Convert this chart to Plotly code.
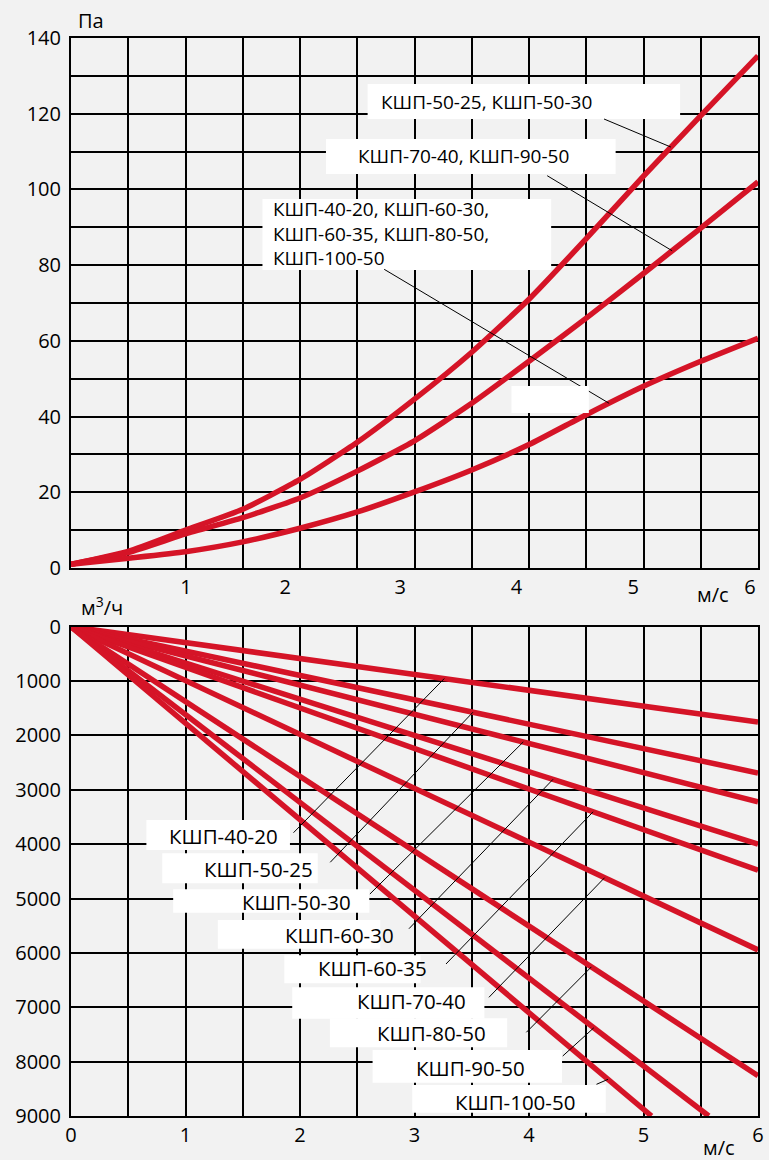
import numpy as np
import plotly.graph_objects as go

# ---------------- data ----------------
# Upper chart: pressure loss (Pa) vs air velocity (m/s)
velocity_top = [0.0, 0.5, 1.0, 1.5, 2.0, 2.5, 3.0, 3.5, 4.0, 4.5, 5.0, 5.5, 6.0]
pressure_50 = [1.0, 4.4, 10.0, 15.5, 23.4, 33.2, 44.6, 57.0, 71.0, 87.0, 103.5, 119.5, 135.3]
pressure_70 = [1.0, 4.1, 9.0, 13.3, 18.5, 25.6, 33.6, 43.5, 54.6, 66.0, 77.8, 89.8, 102.0]
pressure_40 = [1.0, 2.6, 4.3, 6.9, 10.5, 14.8, 20.1, 25.9, 32.6, 40.5, 48.0, 54.6, 60.7]
top_series = [pressure_50, pressure_70, pressure_40]
top_names = ["КШП-50-25, КШП-50-30",
             "КШП-70-40, КШП-90-50",
             "КШП-40-20, КШП-60-30,<br>КШП-60-35, КШП-80-50,<br>КШП-100-50"]

# Lower chart: air flow (m³/h) vs velocity (m/s), straight lines from the origin
models = ["КШП-40-20", "КШП-50-25", "КШП-50-30", "КШП-60-30", "КШП-60-35",
          "КШП-70-40", "КШП-80-50", "КШП-90-50", "КШП-100-50"]
start_velocity = 0.0
start_flow = 0.0
end_velocity = [6.0, 6.0, 6.0, 6.0, 6.0, 6.0, 6.0, 5.57, 5.07]
end_flow = [1755, 2690, 3220, 4000, 4480, 5945, 8260, 9000, 9000]

# tick labels
x_grid = [0.0, 0.5, 1.0, 1.5, 2.0, 2.5, 3.0, 3.5, 4.0, 4.5, 5.0, 5.5, 6.0]
x_labels = ["0", "", "1", "", "2", "", "3", "", "4", "", "5", "", "6"]
top_x_labels = ["1", "2", "3", "4", "5", "6"]
top_y_ticks = [0, 10, 20, 30, 40, 50, 60, 70, 80, 90, 100, 110, 120, 130, 140]
top_y_labels = ["0", " ", "20", " ", "40", " ", "60", " ", "80", " ", "100", " ", "120", " ", "140"]
bottom_y_ticks = [0, 1000, 2000, 3000, 4000, 5000, 6000, 7000, 8000, 9000]
bottom_y_labels = ["0", "1000", "2000", "3000", "4000", "5000", "6000", "7000", "8000", "9000"]

# ---------------- layout / placement (pixels) ----------------
W, H = 769, 1160
ML, MR, MT, MB = 71, 5.5, 38, 44
PW, PH = W - ML - MR, H - MT - MB
TOP_Y140, TOP_Y0 = 38.0, 568.0
BOT_Y0, BOT_Y9000 = 626.7, 1116.0
RED = "#d51427"
BG = "#f2f2f2"
FONT = "Open Sans"

top_x_label_pos = [1.005, 1.87, 2.875, 3.89, 4.91, 5.93]


def paper(px, py):
    return (px - ML) / PW, (H - MB - py) / PH


def top_px(v, p):
    return ML + v / 6 * PW, TOP_Y0 - p / 140 * (TOP_Y0 - TOP_Y140)


def bot_px(v, q):
    return ML + v / 6 * PW, BOT_Y0 + q / 9000 * (BOT_Y9000 - BOT_Y0)


top_dom = [(H - MB - TOP_Y0) / PH, 1.0]
bot_dom = [0.0, (H - MB - BOT_Y0) / PH]

fig = go.Figure()

for s in top_series:
    fig.add_trace(go.Scatter(x=velocity_top, y=s, mode="lines", xaxis="x", yaxis="y",
                             line=dict(color=RED, width=5.5, shape="spline", smoothing=0.5),
                             hoverinfo="skip", showlegend=False))

for ev, ef in zip(end_velocity, end_flow):
    fig.add_trace(go.Scatter(x=[start_velocity, ev], y=[start_flow, ef], mode="lines",
                             xaxis="x2", yaxis="y2",
                             line=dict(color=RED, width=5.5), hoverinfo="skip", showlegend=False))

shapes = []
annotations = []


def box(x0, y0, x1, y1):
    a = paper(x0, y0)
    b = paper(x1, y1)
    shapes.append(dict(type="rect", xref="paper", yref="paper", x0=a[0], y0=a[1], x1=b[0], y1=b[1],
                       fillcolor="white", line=dict(width=0), layer="above"))


def leader(sx, sy, ex, ey):
    a = paper(sx, sy)
    b = paper(ex, ey)
    shapes.append(dict(type="line", xref="paper", yref="paper", x0=a[0], y0=a[1], x1=b[0], y1=b[1],
                       line=dict(color="black", width=1), layer="above"))


def text(t, px, py, anchor="center", size=19):
    x, y = paper(px, py)
    annotations.append(dict(text=t, x=x, y=y, xref="paper", yref="paper", xanchor=anchor,
                            yanchor="middle", showarrow=False, align="left",
                            font=dict(family=FONT, size=size, color="black")))


# upper chart labels
top_boxes = [(370, 84, 685, 119), (328, 139, 620, 174), (264, 199, 555, 270)]
top_text_pos = [(381, 102), (358.7, 156.5), (272.3, 234)]
top_leader_start = [(608.3, 119), (551, 175.7), (386.7, 269.3)]
top_leader_v = [5.24, 5.25, 4.70]
for bx, tp, ls, lv, s, name in zip(top_boxes, top_text_pos, top_leader_start, top_leader_v,
                                   top_series, top_names):
    box(*bx)
    text(name, tp[0], tp[1], anchor="left", size=19)
    ex, ey = top_px(lv, float(np.interp(lv, velocity_top, s)))
    leader(ls[0], ls[1], ex, ey)
box(515, 386, 593, 413)

# lower chart labels
bot_boxes = [(147, 820, 291.7, 850), (163, 853.3, 319.7, 883.3), (174, 889.3, 371.7, 912.7),
             (219, 920, 382.7, 948.7), (286, 955.3, 423.3, 983.3), (294, 987.3, 487.7, 1018.7),
             (332, 1018.3, 510.7, 1047.3), (375, 1050, 566, 1082.7), (415, 1085, 610, 1112.7)]
bot_text_pos = [(224.5, 836), (259.7, 869.3), (298.2, 902.3), (341.2, 935), (375.2, 968.3),
                (414.5, 1001), (434.5, 1033.3), (473.7, 1068.3), (518.3, 1101.7)]
bot_leader_start = [(295.3, 832.7), (332.3, 862.3), (372.3, 894), (411.7, 928.7), (449, 964),
                    (492.3, 997.3), (530, 1032.3), (566.7, 1056), (600.7, 1084.3)]
bot_leader_v = [3.26, 3.51, 3.95, 4.21, 4.56, 4.66, 4.545, 4.566, 4.69]
for i, m in enumerate(models):
    box(*bot_boxes[i])
    text(m, *bot_text_pos[i], size=20.5)
    v = bot_leader_v[i]
    q = float(np.interp(v, [start_velocity, end_velocity[i]], [start_flow, end_flow[i]]))
    ex, ey = bot_px(v, q)
    leader(bot_leader_start[i][0], bot_leader_start[i][1], ex, ey)

# axis titles
text("Па", 91, 21, size=20)
text("м/с", 718, 594, size=20)
text("м<sup>3</sup>/ч", 102, 606, size=20)
text("м/с", 724, 1147, size=20)

grid = dict(showgrid=True, gridcolor="black", gridwidth=2, showline=True, linecolor="black",
            linewidth=2, mirror=True, zeroline=False, ticks="", fixedrange=True,
            tickfont=dict(family=FONT, size=20, color="black"))

fig.update_layout(
    width=W, height=H,
    margin=dict(l=ML, r=MR, t=MT, b=MB, pad=0),
    paper_bgcolor=BG, plot_bgcolor=BG,
    showlegend=False,
    shapes=shapes, annotations=annotations,
    xaxis=dict(domain=[0, 1], anchor="y", range=[0, 6], tickmode="array",
               tickvals=top_x_label_pos, ticktext=top_x_labels,
               minor=dict(tickmode="array", tickvals=x_grid, showgrid=True,
                          gridcolor="black", gridwidth=2, ticks=""),
               **{k: v for k, v in grid.items() if k != "showgrid"}, showgrid=False),
    yaxis=dict(domain=top_dom, anchor="x", range=[0, 140], tickmode="array",
               tickvals=top_y_ticks, ticktext=top_y_labels, ticklabelstandoff=4, **grid),
    xaxis2=dict(domain=[0, 1], anchor="y2", range=[0, 6], tickmode="array",
                tickvals=x_grid, ticktext=x_labels, **grid),
    yaxis2=dict(domain=bot_dom, anchor="x2", range=[9000, 0], tickmode="array",
                tickvals=bottom_y_ticks, ticktext=bottom_y_labels, ticklabelstandoff=4, **grid),
)

fig.write_html("out.html", config={"displayModeBar": False},
               post_script="document.body.style.margin='0px';")
